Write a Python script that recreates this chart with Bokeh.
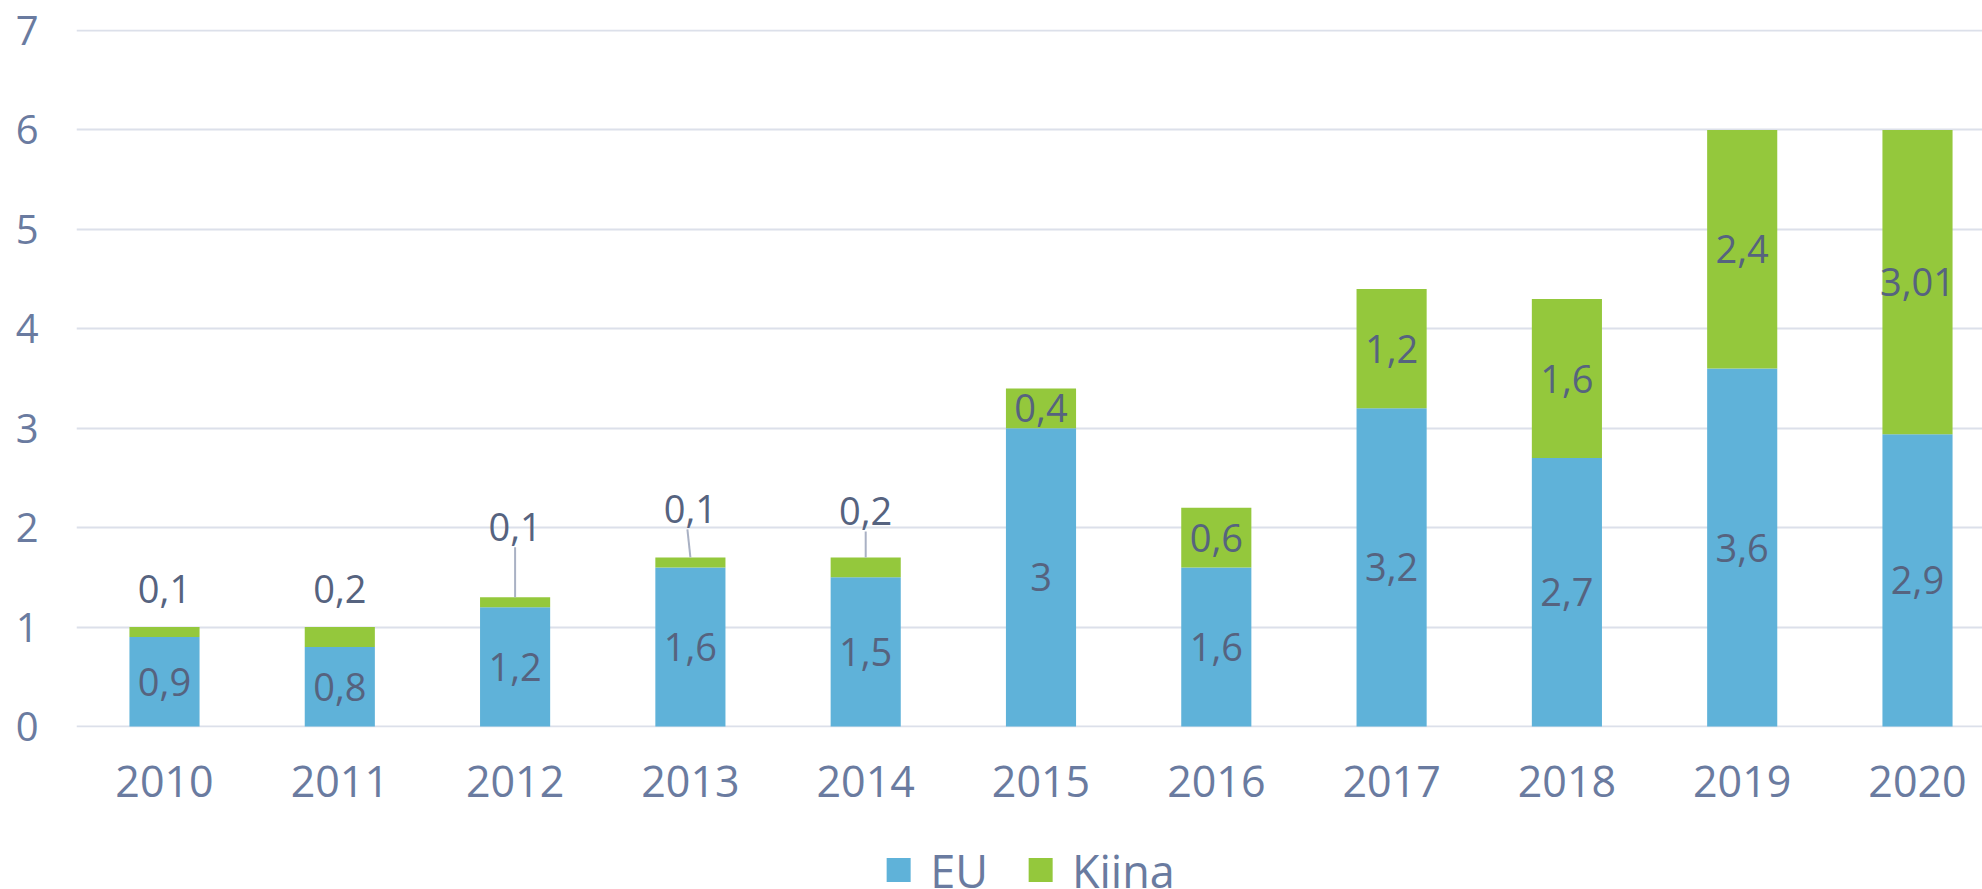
from bokeh.plotting import figure
from bokeh.layouts import column
from bokeh.models import ColumnDataSource, FixedTicker, Range1d, Legend, LegendItem
from bokeh.core.properties import value
from bokeh.embed import file_html
from bokeh.resources import INLINE

# ---- data ----
years = ["2010", "2011", "2012", "2013", "2014", "2015", "2016", "2017", "2018", "2019", "2020"]
eu = [0.9, 0.8, 1.2, 1.6, 1.5, 3.0, 1.6, 3.2, 2.7, 3.6, 2.94]
kiina = [0.1, 0.2, 0.1, 0.1, 0.2, 0.4, 0.6, 1.2, 1.6, 2.4, 3.06]
eu_labels = ["0,9", "0,8", "1,2", "1,6", "1,5", "3", "1,6", "3,2", "2,7", "3,6", "2,9"]
kiina_labels = ["0,1", "0,2", "0,1", "0,1", "0,2", "0,4", "0,6", "1,2", "1,6", "2,4", "3,01"]
series_names = ["EU", "Kiina"]
y_ticks = [0, 1, 2, 3, 4, 5, 6, 7]

# ---- layout / style ----
# pixels above the bar top for labels moved outside the bar (None = centred in the segment)
kiina_label_lift = [38, 38, 70, 48, 46, None, None, None, None, None, None]
leader_line = [False, False, True, True, True, False, False, False, False, False, False]
leader_dx_top = [0, 0, 0, -3, 0, 0, 0, 0, 0, 0, 0]

BLUE = "#5FB2D9"
GREEN = "#94C83C"
TICK_COLOR = "#6A7BA0"
LABEL_COLOR = "#56637F"
GRID_COLOR = "#DCE0EA"
LEADER_COLOR = "#A9B1C4"
FONT = "Open Sans"

W = 1982
H_MAIN = 830
H_LEG = 889 - H_MAIN
FRAME_LEFT, FRAME_TOP, FRAME_BOTTOM = 76, 29, 727
BAND_PX = 175.3
PX_PER_UNIT = (FRAME_BOTTOM - FRAME_TOP) / 7.02

xs = list(range(len(years)))
totals = [a + b for a, b in zip(eu, kiina)]

src = ColumnDataSource(dict(x=xs, EU=eu, Kiina=kiina))

x_start = -0.502
x_end = x_start + (W - FRAME_LEFT) / BAND_PX

p = figure(width=W, height=H_MAIN, output_backend="svg", toolbar_location=None,
           x_range=Range1d(x_start, x_end), y_range=Range1d(-0.01, 7.01),
           min_border_left=FRAME_LEFT, min_border_right=0, min_border_top=FRAME_TOP,
           min_border_bottom=H_MAIN - FRAME_BOTTOM)
p.outline_line_color = None
p.background_fill_color = "white"
p.border_fill_color = "white"

r = p.vbar_stack(series_names, x="x", width=0.4, color=[BLUE, GREEN], line_color=None, source=src)

# axes
p.xaxis.ticker = FixedTicker(ticks=xs)
p.xaxis.major_label_overrides = {i: y for i, y in enumerate(years)}
p.yaxis.ticker = FixedTicker(ticks=y_ticks)
for ax in (p.xaxis[0], p.yaxis[0]):
    ax.axis_line_color = None
    ax.major_tick_line_color = None
    ax.minor_tick_line_color = None
    ax.major_tick_out = 0
    ax.major_tick_in = 0
    ax.minor_tick_out = 0
    ax.major_label_text_font = FONT
    ax.major_label_text_color = TICK_COLOR
p.xaxis.major_label_text_font_size = "43px"
p.xaxis.major_label_standoff = 38
p.yaxis.major_label_text_font_size = "40px"
p.yaxis.major_label_standoff = 38

p.xgrid.grid_line_color = None
p.ygrid.grid_line_color = GRID_COLOR
p.ygrid.grid_line_width = 2
p.ygrid.ticker = FixedTicker(ticks=y_ticks)

# EU labels (centred in segment)
eu_src = ColumnDataSource(dict(x=xs, y=[v / 2 for v in eu], t=eu_labels))
p.text(x="x", y="y", text="t", source=eu_src, text_align="center", text_baseline="middle",
       text_font=value(FONT), text_font_size="38px", text_color=LABEL_COLOR)

# Kiina labels
ky, koff = [], []
for i in xs:
    if kiina_label_lift[i] is None:
        ky.append(eu[i] + kiina[i] / 2)
        koff.append(0)
    else:
        ky.append(totals[i])
        koff.append(-kiina_label_lift[i])
k_src = ColumnDataSource(dict(x=xs, y=ky, t=kiina_labels, yo=koff))
p.text(x="x", y="y", text="t", y_offset="yo", source=k_src, text_align="center", text_baseline="middle",
       text_font=value(FONT), text_font_size="38px", text_color=LABEL_COLOR)

# leader lines
lx0, ly0, lx1, ly1 = [], [], [], []
for i in xs:
    if leader_line[i]:
        lx0.append(i)
        ly0.append(totals[i])
        lx1.append(i + leader_dx_top[i] / BAND_PX)
        ly1.append(totals[i] + (kiina_label_lift[i] - 20) / PX_PER_UNIT)
p.segment(x0=lx0, y0=ly0, x1=lx1, y1=ly1, line_color=LEADER_COLOR, line_width=2)

# ---- legend strip (same stacked series, scrolled far out of view; only its legend shows) ----
p2 = figure(width=W, height=H_LEG, output_backend="svg", toolbar_location=None,
            x_range=Range1d(-1000, -999), y_range=Range1d(-1000, -999),
            min_border_left=54, min_border_right=0, min_border_top=20, min_border_bottom=0)
p2.axis.visible = False
p2.grid.visible = False
p2.outline_line_color = None
p2.background_fill_color = "white"
p2.border_fill_color = "white"
lr = p2.vbar_stack(series_names, x="x", width=0.4, color=[BLUE, GREEN], line_color=None, source=src)
legend = Legend(items=[LegendItem(label=n, renderers=[g]) for n, g in zip(series_names, lr)],
                orientation="horizontal", location="center",
                glyph_width=30, glyph_height=30, label_standoff=17, spacing=37,
                label_text_font=FONT, label_text_font_size="45px", label_text_color=TICK_COLOR,
                padding=0, margin=0, border_line_color=None, background_fill_alpha=0)
p2.add_layout(legend, "center")

layout = column(p, p2, spacing=0)
open("out.html", "w").write(file_html(layout, INLINE))
